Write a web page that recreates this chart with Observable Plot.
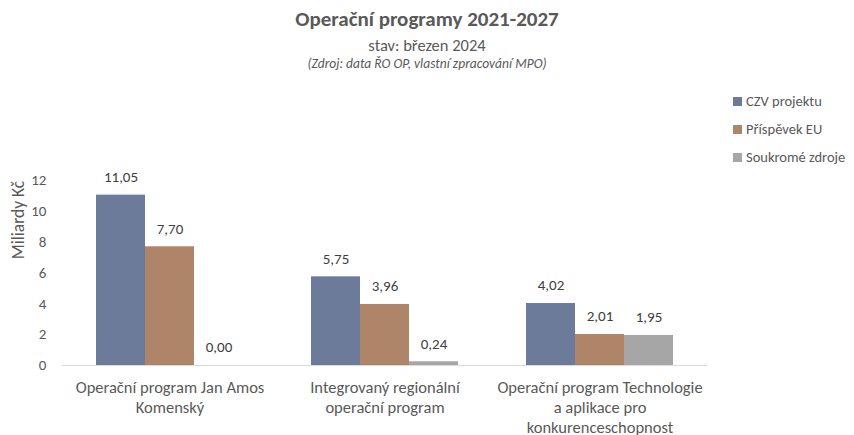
<!DOCTYPE html>
<html>
<head>
<meta charset="utf-8">
<script src="https://cdn.jsdelivr.net/npm/d3@7"></script>
<script src="https://cdn.jsdelivr.net/npm/@observablehq/plot@0.6"></script>
<style>
  body { margin: 0; background: #fff; font-family: Carlito, Lato, "Liberation Sans", sans-serif; }
  #wrap { position: relative; width: 854px; height: 435px; overflow: hidden; }
  #head { height: 80px; text-align: center; color: #595959; }
  #title { position: absolute; left: 0; width: 854px; top: 7px; font-size: 21px; line-height: 25px; font-weight: bold; text-align: center; }
  #sub { position: absolute; left: 0; width: 854px; top: 35px; font-size: 16.5px; line-height: 20px; text-align: center; }
  #src { position: absolute; left: 0; width: 854px; top: 56px; font-size: 13.5px; line-height: 16px; font-style: italic; text-align: center; }
  #legend { position: absolute; left: 733px; top: 87px; font-size: 14.5px; color: #595959; }
  .li { height: 28px; display: flex; align-items: center; }
  .sw { width: 9px; height: 9px; margin-right: 4px; }
  #ylab { position: absolute; left: 18px; top: 220px; transform: translate(-50%, -50%) rotate(-90deg); font-size: 17.5px; color: #595959; white-space: nowrap; }
  #chart { position: absolute; left: 0; top: 80px; }
</style>
</head>
<body>
<div id="wrap">
  <div id="head">
    <div id="title">Operační programy 2021-2027</div>
    <div id="sub">stav: březen 2024</div>
    <div id="src">(Zdroj: data ŘO OP, vlastní zpracování MPO)</div>
  </div>
  <div id="legend"></div>
  <div id="ylab">Miliardy Kč</div>
  <div id="chart"></div>
</div>
<script>
const categories = [
  "Operační program Jan Amos\nKomenský",
  "Integrovaný regionální\noperační program",
  "Operační program Technologie\na aplikace pro\nkonkurenceschopnost"
];
const series = ["CZV projektu", "Příspěvek EU", "Soukromé zdroje"];
const czv = [11.05, 5.75, 4.02];
const eu = [7.70, 3.96, 2.01];
const soukrome = [0.00, 0.24, 1.95];
const colors = ["#6b7b99", "#ae8569", "#a6a6a6"];
const yTicks = [0, 2, 4, 6, 8, 10, 12];

const values = [czv, eu, soukrome];
const data = [];
categories.forEach((c, i) => {
  series.forEach((s, j) => data.push({ cat: c, series: s, value: values[j][i] }));
});

const fmt = v => v.toFixed(2).replace(".", ",");

// band geometry: facet step and the half-gap outside each group of bars
const W = 854, ML = 62, MR = 146, PI = 0.316, PO = 0.158;
const step = (W - ML - MR) / (categories.length - PI + 2 * PO);
const half = step * PO;

const chart = Plot.plot({
  width: W,
  height: 355,
  marginLeft: ML,
  marginRight: MR,
  marginTop: 100,
  marginBottom: 70,
  style: { fontFamily: "Carlito, Lato, 'Liberation Sans', sans-serif", fontSize: "14.5px", color: "#595959", background: "transparent", overflow: "visible" },
  fx: { domain: categories, paddingInner: PI, paddingOuter: PO, label: null, axis: null },
  x: { domain: series, padding: 0, axis: null },
  y: { domain: [0, 12], axis: null },
  color: { domain: series, range: colors },
  marks: [
    Plot.barY(data, { fx: "cat", x: "series", y: "value", fill: "series" }),
    Plot.ruleY([0], { stroke: "#d9d9d9", strokeWidth: 1.2, insetLeft: -half, insetRight: -half }),
    Plot.text(data, { fx: "cat", x: "series", y: "value", text: d => fmt(d.value), dy: -18, fill: "#404040", fontSize: 15 }),
    Plot.axisY({ ticks: yTicks, tickSize: 0, tickPadding: 16 + half, label: null, fill: "#595959", fontSize: 15 }),
    Plot.axisFx({ anchor: "bottom", tickSize: 0, tickPadding: 13, label: null, lineHeight: 1.22, lineAnchor: "top", fill: "#595959", fontSize: 16.5, textAnchor: "middle" })
  ]
});
document.getElementById("chart").appendChild(chart);

const legend = document.getElementById("legend");
series.forEach((s, i) => {
  const row = document.createElement("div");
  row.className = "li";
  const sw = document.createElement("span");
  sw.className = "sw";
  sw.style.background = colors[i];
  const t = document.createElement("span");
  t.textContent = s;
  row.appendChild(sw);
  row.appendChild(t);
  legend.appendChild(row);
});
</script>
</body>
</html>
